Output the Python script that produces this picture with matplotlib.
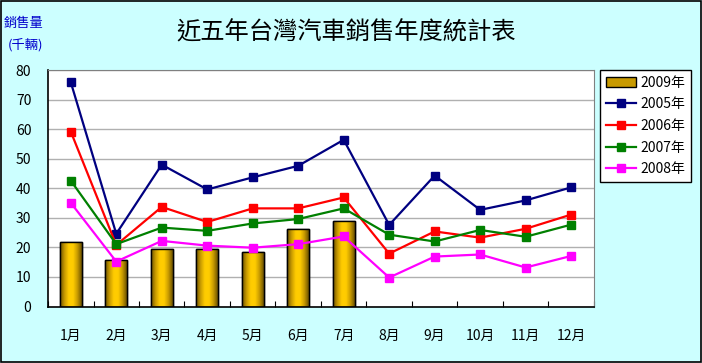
import matplotlib
matplotlib.use("Agg")
import matplotlib.pyplot as plt
from matplotlib.colors import LinearSegmentedColormap
from matplotlib.patches import Patch, Rectangle
import numpy as np

plt.rcParams["font.family"] = ["Noto Sans CJK TC", "DejaVu Sans"]

MONTHS = ["1月", "2月", "3月", "4月", "5月", "6月", "7月", "8月", "9月", "10月", "11月", "12月"]

SALES_2009 = [21.8, 15.7, 19.4, 19.4, 18.4, 26.2, 28.9]
SALES_2005 = [75.9, 24.6, 48.0, 39.6, 43.7, 47.6, 56.4, 27.6, 44.3, 32.7, 35.9, 40.3]
SALES_2006 = [59.2, 20.8, 33.7, 28.6, 33.2, 33.2, 36.9, 17.9, 25.4, 23.3, 26.3, 31.1]
SALES_2007 = [42.6, 21.1, 26.7, 25.6, 28.1, 29.6, 33.2, 24.3, 22.0, 25.9, 23.6, 27.7]
SALES_2008 = [35.1, 15.2, 22.2, 20.6, 19.9, 21.1, 23.7, 9.8, 16.9, 17.6, 13.2, 17.1]

LINES = [
    ("2005年", SALES_2005, "#000080"),
    ("2006年", SALES_2006, "#ff0000"),
    ("2007年", SALES_2007, "#008000"),
    ("2008年", SALES_2008, "#ff00ff"),
]

BG = "#ccffff"
gold = LinearSegmentedColormap.from_list(
    "gold", ["#6b5200", "#c89a00", "#ffcc00", "#ffcc00", "#c89a00", "#6b5200"]
)

fig = plt.figure(figsize=(7.02, 3.63), dpi=100, facecolor=BG)
fig.patches.append(Rectangle((0.001, 0.002), 0.997, 0.995, transform=fig.transFigure,
                             fill=False, edgecolor="black", linewidth=1.2))
ax = fig.add_axes([0.0684, 0.1556, 0.7776, 0.6514])
ax.set_facecolor("white")

x = np.arange(len(MONTHS))

# gradient bars for 2009
grad = np.linspace(0, 1, 64).reshape(1, -1)
bars = ax.bar(x[:len(SALES_2009)], SALES_2009, width=0.48, color="#ffcc00",
              edgecolor="black", linewidth=1.0, zorder=2)
for b in bars:
    im = ax.imshow(grad, cmap=gold, aspect="auto", zorder=2.1,
                   extent=[b.get_x(), b.get_x() + b.get_width(), 0, b.get_height()])
    im.set_clip_path(b)
    ax.add_patch(Rectangle((b.get_x(), 0), b.get_width(), b.get_height(),
                           fill=False, edgecolor="black", linewidth=1.0, zorder=2.2))
ax.set_xlim(-0.5, len(MONTHS) - 0.5)
ax.set_ylim(0, 80)

for label, vals, color in LINES:
    ax.plot(x, vals, color=color, linewidth=1.6, marker="s", markersize=5.5,
            markeredgecolor=color, zorder=3, label=label)

ax.set_yticks(range(0, 81, 10))
ax.yaxis.grid(True, color="#b0b0b0", linewidth=1.0)
ax.set_axisbelow(True)
ax.tick_params(axis="y", length=0, labelsize=10, pad=12)
ax.set_xticks(x)
ax.set_xticklabels(MONTHS, fontsize=10)
ax.set_xticks(np.arange(-0.5, len(MONTHS) + 0.5, 1), minor=True)
ax.tick_params(axis="x", which="major", length=0, pad=16)
ax.tick_params(axis="x", which="minor", direction="in", length=4, width=0.8)
for side in ("top", "right"):
    ax.spines[side].set_color("#808080")
for side in ("left", "bottom"):
    ax.spines[side].set_color("black")
    ax.spines[side].set_linewidth(1.2)

handles = [Patch(facecolor="#c89a00", edgecolor="black", label="2009年")]
handles += ax.get_lines()
leg = fig.legend(handles=handles, labels=[h.get_label() for h in handles],
                 loc="upper left", bbox_to_anchor=(0.855, 0.807), fontsize=10,
                 frameon=True, fancybox=False, edgecolor="black", facecolor="white",
                 framealpha=1, handlelength=2.2, handletextpad=0.3,
                 labelspacing=0.55, borderpad=0.4, borderaxespad=0)
leg.get_frame().set_linewidth(1.0)

fig.text(0.493, 0.91, "近五年台灣汽車銷售年度統計表", ha="center", va="center", fontsize=17.5)
fig.text(0.033, 0.935, "銷售量", ha="center", va="center", fontsize=9.5, color="#0000cc")
fig.text(0.036, 0.877, "(千輛)", ha="center", va="center", fontsize=9.5, color="#0000cc")

fig.savefig("out.png", dpi=100, facecolor=BG)
